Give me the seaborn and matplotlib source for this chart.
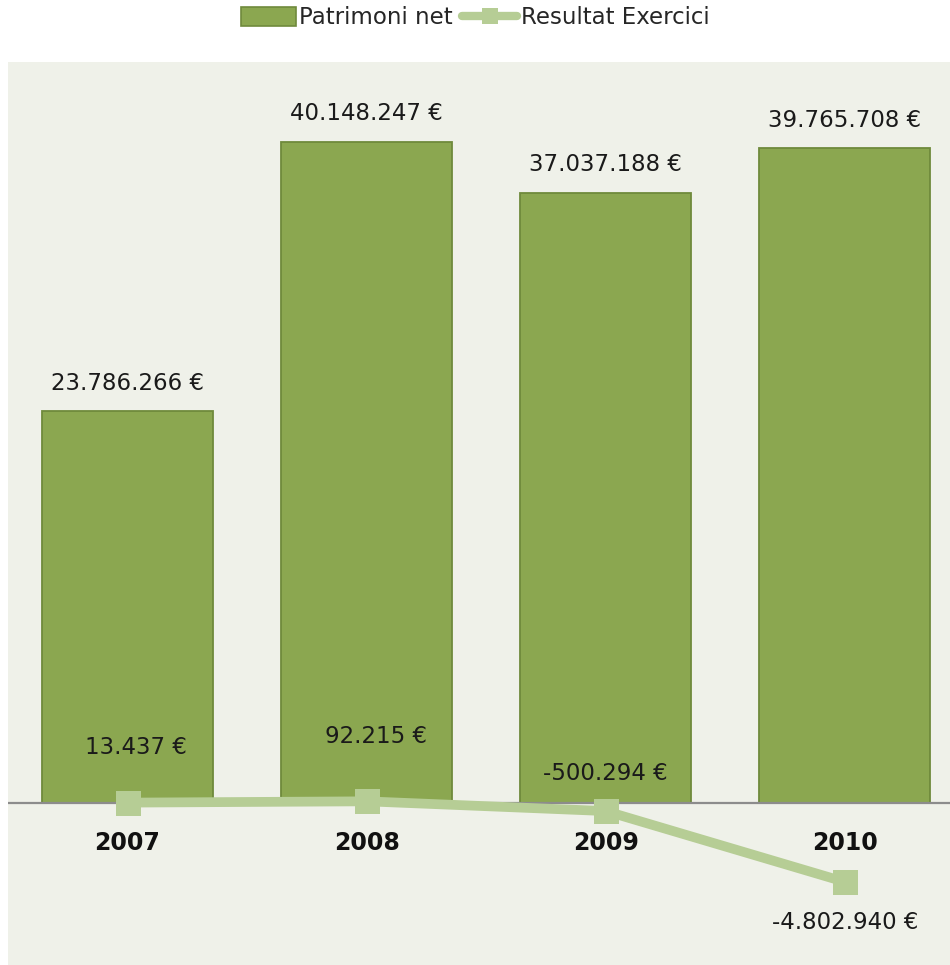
import matplotlib
matplotlib.use('Agg')
import matplotlib.pyplot as plt
from matplotlib.patches import Patch
from matplotlib.lines import Line2D
import seaborn as sns
import pandas as pd

anys = ['2007', '2008', '2009', '2010']
patrimoni = [23786266, 40148247, 37037188, 39765708]
resultat = [13437, 92215, -500294, -4802940]

# desplaçament de les etiquetes de la línia (punts)
off_resultat = [(6, 40), (7, 47), (0, 27), (0, -29)]

BAR = '#8BA750'
BAR_EDGE = '#6F8A3C'
LINE = '#B6CD95'
BG = '#EFF1E9'
FS = 16.5


def euros(v):
    return f"{v:,}".replace(",", ".") + " €"


sns.set_style('white')
plt.rcParams['font.family'] = ['DejaVu Sans']

df = pd.DataFrame({'any': anys, 'patrimoni': patrimoni, 'resultat': resultat})

fig = plt.figure(figsize=(9.5, 9.65), dpi=100)
ax = fig.add_axes([8 / 950, 0, 942 / 950, 903 / 965])
ax.set_facecolor(BG)

sns.barplot(data=df, x='any', y='patrimoni', ax=ax, color=BAR, saturation=1,
            edgecolor=BAR_EDGE, linewidth=1.3, width=0.715, zorder=2)

pos = list(range(len(anys)))
ax.plot(pos, df['resultat'], color=LINE, linewidth=7, marker='s',
        markersize=18, markeredgewidth=0, zorder=4, solid_capstyle='butt')

for b, v in zip(ax.patches, patrimoni):
    ax.annotate(euros(v), (b.get_x() + b.get_width() / 2, v), xytext=(0, 12),
                textcoords='offset points', ha='center', va='bottom', fontsize=FS,
                color='#1a1a1a')

for x, v, off in zip(pos, resultat, off_resultat):
    ax.annotate(euros(v), (x, v), xytext=off, textcoords='offset points',
                ha='center', va='center', fontsize=FS, color='#1a1a1a', zorder=5)

ax.set_xlim(-0.5, 3.44)
ax.set_ylim(-9.85e6, 45e6)
ax.axhline(0, color='#8c8c8c', linewidth=1.6, zorder=3)

for s in ax.spines.values():
    s.set_visible(False)
ax.set_yticks([])
ax.set_xlabel('')
ax.set_ylabel('')
ax.set_xticks([])
for x, a in zip(pos, anys):
    ax.annotate(a, (x, 0), xytext=(0, -29), textcoords='offset points',
                ha='center', va='center', fontsize=17, fontweight='bold', color='#111111')

handles = [
    Patch(facecolor=BAR, edgecolor=BAR_EDGE, linewidth=1.2),
    Line2D([0], [0], color=LINE, linewidth=6, marker='s', markersize=12,
           markeredgewidth=0, solid_capstyle='round'),
]
fig.legend(handles, ['Patrimoni net', 'Resultat Exercici'], loc='center',
           bbox_to_anchor=(0.5, 1 - 18 / 965), ncol=2, frameon=False, fontsize=FS,
           handlelength=2.4, handleheight=0.85, handletextpad=0.15, columnspacing=0.4)

fig.savefig('out.png', dpi=100, facecolor='white')
